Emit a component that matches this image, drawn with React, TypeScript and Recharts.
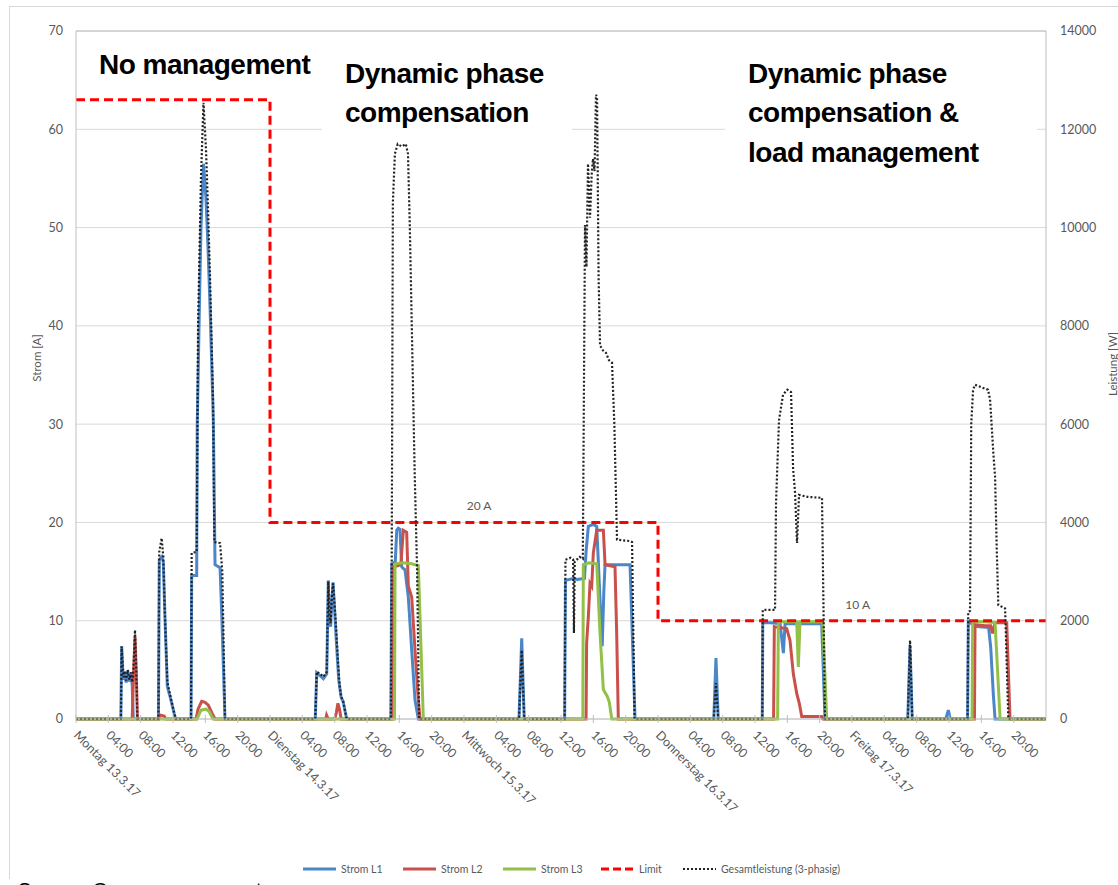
import React from 'react';
import { LineChart, Line, XAxis, YAxis, CartesianGrid, ReferenceDot, ReferenceLine } from 'recharts';

type Pt = [number, number];

// ---- axis ticks & labels ----
const hourTicks = [0, 4, 8, 12, 16, 20, 24, 28, 32, 36, 40, 44, 48, 52, 56, 60, 64, 68, 72, 76, 80, 84, 88, 92, 96, 100, 104, 108, 112, 116];
const dayLabels = ['Montag 13.3.17', 'Dienstag 14.3.17', 'Mittwoch 15.3.17', 'Donnerstag 16.3.17', 'Freitag 17.3.17'];
const timeLabels = ['', '04:00', '08:00', '12:00', '16:00', '20:00'];
const stromTicks = [0, 10, 20, 30, 40, 50, 60, 70];
const leistungTicks = [0, 2000, 4000, 6000, 8000, 10000, 12000, 14000];

// ---- series: [hour since Mon 00:00, value] ----
const stromL1: Pt[] = [
  [0, 0],
  [5.55, 0], [5.65, 7.4], [5.85, 4.0], [6.0, 4.8], [6.2, 3.7], [6.4, 4.9], [6.6, 3.8], [6.8, 4.6], [6.95, 3.5], [7.09, 0],
  [10.2, 0], [10.3, 16.2], [10.6, 16.5], [10.8, 16.0], [11.0, 10.5], [11.3, 3.3], [11.63, 2.3], [12.16, 0.5], [12.33, 0],
  [14.23, 0], [14.31, 14.6], [14.93, 14.6], [15.0, 30], [15.22, 40], [15.46, 50], [15.77, 56.5], [16.08, 53], [16.33, 48], [16.58, 42], [16.99, 30.4], [17.2, 15.7], [17.82, 15.4], [18.06, 10], [18.43, 0],
  [29.6, 0], [29.78, 4.7], [30.2, 4.4], [30.6, 4.1], [31.02, 4.6], [31.21, 14.1], [31.35, 10], [31.5, 9.4], [31.65, 12], [31.8, 13.9], [32.0, 11], [32.2, 8], [32.5, 4], [32.8, 2.2], [33.03, 1.8], [33.49, 0],
  [38.95, 0], [39.06, 15.8], [39.5, 16], [39.68, 19.2], [39.87, 19.4], [40.08, 19.3], [40.29, 15.5], [40.49, 15.3], [40.7, 15.2], [41.11, 12.4], [41.53, 7.0], [41.94, 1.9], [42.35, 0],
  [54.8, 0], [55.14, 8.2], [55.45, 0],
  [60.45, 0], [60.55, 14.1], [61.5, 14.3], [62.0, 14.2], [62.9, 14.3], [63.1, 17], [63.38, 19.6], [64.0, 19.8], [64.42, 19.6], [64.83, 12.1], [65.1, 7.4], [65.3, 13], [65.45, 15.7], [66.5, 15.7], [67.5, 15.7], [68.54, 15.7], [69.16, 0],
  [78.9, 0], [79.17, 6.2], [79.45, 0],
  [84.9, 0], [84.96, 9.8], [86.0, 9.8], [87.1, 9.7], [87.51, 6.7], [87.72, 9.7], [90.0, 9.7], [92.25, 9.7], [92.66, 0],
  [102.9, 0], [103.18, 7.5], [103.45, 0],
  [107.6, 0], [107.92, 0.9], [108.15, 0],
  [110.3, 0], [110.39, 9.9], [111.0, 9.6], [111.5, 9.4], [112.9, 9.3], [113.16, 7.3], [113.49, 2.4], [113.7, 0],
  [120, 0],
];

const stromL2: Pt[] = [
  [0, 0],
  [6.95, 0], [7.1, 4], [7.3, 8.4], [7.45, 5], [7.6, 0],
  [10.2, 0], [10.4, 0.4], [10.9, 0.3], [11.1, 0],
  [14.85, 0], [15.1, 1.0], [15.55, 1.8], [15.96, 1.7], [16.37, 1.4], [16.83, 0.6], [17.2, 0],
  [30.9, 0], [31.0, 0.4], [31.2, 0], [32.0, 0], [32.2, 0.6], [32.4, 1.6], [32.6, 1.0], [32.8, 0],
  [39.2, 0], [39.26, 15.5], [39.87, 15.6], [40.2, 15.8], [40.49, 19.2], [40.91, 19.0], [41.11, 13.5], [41.53, 12.4], [41.94, 7.0], [42.35, 1.9], [42.56, 0],
  [63.1, 0], [63.17, 7.7], [63.38, 10.4], [63.59, 13.8], [63.8, 13.5], [64.0, 16.9], [64.42, 19.2], [65.24, 19.2], [65.45, 15.7], [66.68, 15.5], [66.89, 8.7], [67.09, 0],
  [86.3, 0], [86.39, 9.4], [86.89, 9.3], [87.92, 9.2], [88.33, 8.0], [88.74, 4.6], [89.16, 2.6], [89.48, 1.6], [89.78, 0.25], [92.25, 0.25], [92.4, 0],
  [111.15, 0], [111.22, 9.6], [112.5, 9.5], [113.16, 9.5], [113.37, 8.7], [113.7, 9.8], [115.14, 9.8], [115.55, 0],
  [120, 0],
];

const stromL3: Pt[] = [
  [0, 0],
  [14.97, 0], [15.46, 0.9], [16.08, 1.0], [16.45, 0.8], [16.95, 0],
  [39.4, 0], [39.47, 15.8], [40.5, 15.9], [41.5, 15.8], [42.35, 15.6], [42.97, 0],
  [62.7, 0], [62.76, 15.7], [63.5, 15.9], [64.42, 15.8], [64.83, 8.7], [65.24, 3.0], [65.73, 2.3], [65.98, 1.7], [66.28, 0],
  [86.8, 0], [86.89, 9.9], [88.0, 9.9], [89.16, 9.9], [89.36, 5.3], [89.57, 9.9], [91.0, 9.9], [92.38, 9.9], [92.87, 0],
  [110.85, 0], [110.93, 9.9], [112.5, 9.9], [113.7, 9.8], [114.32, 0],
  [120, 0],
];

const limit: Pt[] = [[0, 63], [24, 63], [24, 20], [72, 20], [72, 10], [120, 10]];

const gesamtleistung: Pt[] = [
  [0, 0],
  [5.55, 0], [5.65, 1480], [5.85, 850], [6.0, 980], [6.2, 780], [6.4, 1000], [6.6, 800], [6.8, 950], [6.95, 750], [7.1, 1000], [7.3, 1810], [7.45, 1000], [7.6, 0],
  [10.2, 0], [10.3, 3400], [10.6, 3680], [10.8, 3300], [11.0, 2100], [11.3, 750], [11.63, 500], [12.16, 120], [12.33, 0],
  [14.23, 0], [14.31, 3380], [14.93, 3400], [15.1, 8000], [15.46, 11000], [15.77, 12540], [16.08, 11600], [16.33, 10400], [16.58, 9000], [16.95, 6500], [17.12, 3600], [17.82, 3580], [18.1, 3000], [18.43, 0],
  [29.6, 0], [29.78, 960], [30.2, 920], [30.6, 860], [31.02, 960], [31.21, 2800], [31.35, 2100], [31.5, 1950], [31.65, 2500], [31.8, 2760], [32.0, 2300], [32.2, 1800], [32.4, 1200], [32.6, 700], [32.8, 450], [33.03, 380], [33.49, 0],
  [38.95, 0], [39.06, 3300], [39.2, 10500], [39.45, 11500], [39.8, 11700], [40.3, 11650], [40.8, 11700], [41.07, 11500], [41.3, 10000], [41.6, 7500], [41.9, 5000], [42.2, 3000], [42.45, 0],
  [54.8, 0], [55.14, 1400], [55.45, 0],
  [60.45, 0], [60.55, 3240], [61.2, 3280], [61.5, 3250], [61.6, 1750], [61.7, 3200], [62.3, 3300], [62.7, 3260], [62.97, 10050], [63.15, 9200], [63.34, 11300], [63.59, 10200], [63.8, 11100], [63.96, 11400], [64.15, 11150], [64.33, 12700], [64.46, 12650], [64.65, 9000], [64.83, 7600], [65.2, 7500], [65.57, 7450], [65.94, 7300], [66.31, 7250], [66.6, 6000], [66.93, 3650], [68.54, 3620], [68.79, 3600], [69.1, 0],
  [78.9, 0], [79.17, 730], [79.45, 0],
  [84.9, 0], [84.96, 2220], [86.48, 2220], [86.6, 4400], [86.97, 6080], [87.47, 6600], [88.0, 6700], [88.46, 6650], [88.71, 5100], [88.96, 4600], [89.2, 3580], [89.45, 4560], [90.5, 4520], [92.29, 4500], [92.66, 0],
  [102.9, 0], [103.18, 1600], [103.45, 0],
  [110.3, 0], [110.38, 2180], [110.6, 2200], [110.75, 6000], [110.98, 6700], [111.22, 6800], [112.0, 6750], [112.83, 6700], [113.08, 6500], [113.49, 5400], [113.7, 4930], [113.9, 3500], [114.1, 2320], [114.94, 2250], [115.34, 0],
  [120, 0],
];

// limit annotations: [hour, ampere, text]
const limitNotes: [number, number, string][] = [[49.86, 21.67, '20 A'], [96.7, 11.6, '10 A']];

const seriesNames = ['Strom L1', 'Strom L2', 'Strom L3', 'Limit', 'Gesamtleistung (3-phasig)'];

const headings = [
  ['No management'],
  ['Dynamic phase', 'compensation'],
  ['Dynamic phase', 'compensation &', 'load management'],
];

const C_L1 = '#4a86c8';
const C_L2 = '#c9504b';
const C_L3 = '#93c047';
const C_LIM = '#ff0000';
const C_TOT = '#222222';
const GRAY = '#595959';

const toRows = (pts: Pt[]) => pts.map(([h, v]) => ({ h, v }));

function XTick(props: any) {
  const { x, y, payload } = props;
  const h = Number(payload.value);
  const day = Math.floor(h / 24);
  const idx = Math.round((h % 24) / 4);
  const text = idx === 0 ? dayLabels[day] : timeLabels[idx];
  const axisY = y - 8;
  const ox = x - 3;
  const oy = axisY + 17;
  return (
    <g>
      <line x1={x} x2={x} y1={axisY - 4} y2={axisY + 4} stroke="#bfbfbf" strokeWidth={1} />
      <text x={ox} y={oy} transform={`rotate(45, ${ox}, ${oy})`} textAnchor="start" fill={GRAY} fontSize={12.5} fontFamily="Lato">
        {text}
      </text>
    </g>
  );
}

const headFont: React.CSSProperties = {
  fontFamily: '"Liberation Sans", Arial, sans-serif',
  fontWeight: 700,
  fontSize: 28,
  letterSpacing: -0.5,
  lineHeight: '39.5px',
  color: '#000',
  whiteSpace: 'nowrap',
};

function LegendIcon({ i }: { i: number }) {
  const cols = [C_L1, C_L2, C_L3, C_LIM, C_TOT];
  const dash = i === 3 ? '8 4' : i === 4 ? '2 2' : undefined;
  const w = i === 4 ? 2 : 3;
  return (
    <svg width={33} height={10} style={{ display: 'block' }}>
      <line x1={0} x2={33} y1={5} y2={5} stroke={cols[i]} strokeWidth={w} strokeDasharray={dash} />
    </svg>
  );
}

const legendLeft = [303, 403, 503, 601, 683];

export default function App() {
  return (
    <div style={{ position: 'absolute', left: 0, top: 0, width: 1118, height: 885, overflow: 'hidden', background: '#fff' }}>
      <div style={{ position: 'absolute', left: 9, top: 6, width: 1200, height: 872, borderLeft: '1px solid #d9d9d9', borderTop: '1px solid #d9d9d9' }} />
      <div style={{ position: 'absolute', left: 0, top: 0 }}>
        <LineChart width={1118} height={885} margin={{ top: 31, right: 12, bottom: 66, left: 16 }}>
          <CartesianGrid yAxisId="left" vertical={false} stroke="#d9d9d9" />
          <XAxis
            type="number"
            dataKey="h"
            domain={[0, 120]}
            ticks={hourTicks}
            interval={0}
            height={100}
            tickSize={6}
            tickMargin={2}
            tickLine={false}
            axisLine={{ stroke: '#bfbfbf' }}
            tick={<XTick />}
            allowDataOverflow
          />
          <YAxis
            yAxisId="left"
            domain={[0, 70]}
            ticks={stromTicks}
            width={60}
            tickLine={false}
            tickMargin={7}
            axisLine={{ stroke: '#bfbfbf' }}
            tick={{ fill: GRAY, fontSize: 12.5, fontFamily: 'Lato' }}
          />
          <YAxis
            yAxisId="right"
            orientation="right"
            domain={[0, 14000]}
            ticks={leistungTicks}
            width={60}
            tickLine={false}
            tickMargin={8}
            axisLine={{ stroke: '#bfbfbf' }}
            tick={{ fill: GRAY, fontSize: 12.5, fontFamily: 'Lato', textAnchor: 'start' }}
          />
          <ReferenceLine yAxisId="left" y={70} stroke="#bfbfbf" />
          <Line data={toRows(stromL1)} dataKey="v" name={seriesNames[0]} yAxisId="left" type="linear" stroke={C_L1} strokeWidth={3} dot={false} activeDot={false} isAnimationActive={false} />
          <Line data={toRows(stromL2)} dataKey="v" name={seriesNames[1]} yAxisId="left" type="linear" stroke={C_L2} strokeWidth={3} dot={false} activeDot={false} isAnimationActive={false} />
          <Line data={toRows(stromL3)} dataKey="v" name={seriesNames[2]} yAxisId="left" type="linear" stroke={C_L3} strokeWidth={3} dot={false} activeDot={false} isAnimationActive={false} />
          <Line data={toRows(limit)} dataKey="v" name={seriesNames[3]} yAxisId="left" type="linear" stroke={C_LIM} strokeWidth={3} strokeDasharray="9 5" dot={false} activeDot={false} isAnimationActive={false} />
          <Line data={toRows(gesamtleistung)} dataKey="v" name={seriesNames[4]} yAxisId="right" type="linear" stroke={C_TOT} strokeWidth={2.2} strokeDasharray="2 2" dot={false} activeDot={false} isAnimationActive={false} />
          {limitNotes.map(([h, a, t]) => (
            <ReferenceDot
              key={t}
              yAxisId="left"
              x={h}
              y={a}
              r={0}
              fill="none"
              stroke="none"
              label={{ value: t, position: 'center', fill: GRAY, fontSize: 12, fontFamily: 'Lato' }}
            />
          ))}
        </LineChart>
      </div>

      {/* axis titles */}
      <div style={{ position: 'absolute', left: 36, top: 358, transform: 'translate(-50%, -50%) rotate(-90deg)', fontFamily: 'Lato', fontSize: 11.5, color: GRAY, whiteSpace: 'nowrap' }}>
        Strom [A]
      </div>
      <div style={{ position: 'absolute', left: 1112, top: 364, transform: 'translate(-50%, -50%) rotate(-90deg)', fontFamily: 'Lato', fontSize: 11.5, color: GRAY, whiteSpace: 'nowrap' }}>
        Leistung [W]
      </div>

      {/* heading boxes */}
      <div style={{ position: 'absolute', left: 77, top: 33, width: 258, height: 62, background: '#fff' }}>
        <div style={{ ...headFont, position: 'absolute', left: 22, top: 11.6 }}>
          {headings[0].map((l) => <div key={l}>{l}</div>)}
        </div>
      </div>
      <div style={{ position: 'absolute', left: 322, top: 33, width: 250, height: 101, background: '#fff' }}>
        <div style={{ ...headFont, position: 'absolute', left: 23, top: 20.6 }}>
          {headings[1].map((l) => <div key={l}>{l}</div>)}
        </div>
      </div>
      <div style={{ position: 'absolute', left: 725, top: 33, width: 312, height: 152, background: '#fff' }}>
        <div style={{ ...headFont, position: 'absolute', left: 23, top: 20.6 }}>
          {headings[2].map((l) => <div key={l}>{l}</div>)}
        </div>
      </div>

      {/* legend */}
      {seriesNames.map((n, i) => (
        <div key={n} style={{ position: 'absolute', left: legendLeft[i], top: 862, height: 14, display: 'flex', alignItems: 'center', gap: 5, fontFamily: 'Lato', fontSize: 10.5, color: GRAY, whiteSpace: 'nowrap' }}>
          <LegendIcon i={i} />
          <span>{n}</span>
        </div>
      ))}

      {/* source line (cut off at the bottom edge, as in the reference) */}
      <div style={{ position: 'absolute', left: 18, top: 878.5, fontFamily: '"Liberation Sans", Arial, sans-serif', fontSize: 20, color: '#000', whiteSpace: 'nowrap' }}>
        Source: Own measurements
      </div>
    </div>
  );
}
